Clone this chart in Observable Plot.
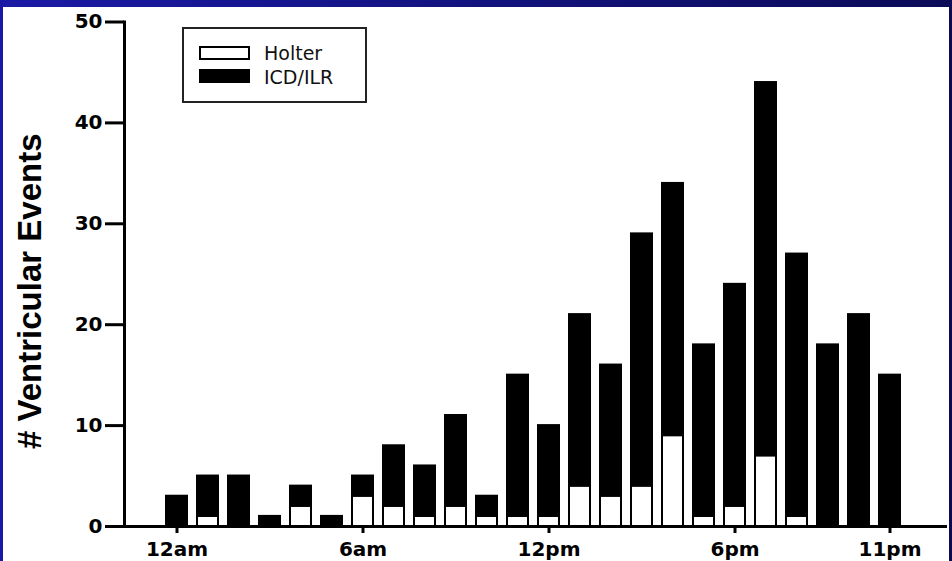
<!DOCTYPE html>
<html>
<head>
<meta charset="utf-8">
<script src="https://cdn.jsdelivr.net/npm/d3@7"></script>
<script src="https://cdn.jsdelivr.net/npm/@observablehq/plot@0.6"></script>
<style>
  html, body { margin: 0; padding: 0; background: white; }
  #wrap { position: relative; width: 952px; height: 561px; overflow: hidden; background: white; }
  #wrap svg { position: absolute; left: 0; top: 0; }
  .band { position: absolute; }
  #legend { position: absolute; left: 182px; top: 27px; width: 185px; height: 76px; box-sizing: border-box;
            border: 2px solid #222; font-family: "DejaVu Sans", sans-serif; font-size: 19px; color: #111; }
  .sw { position: absolute; left: 15px; width: 51px; height: 14px; box-sizing: border-box; border: 2px solid #000; }
  .lt { position: absolute; left: 80px; line-height: 20px; }
</style>
</head>
<body>
<div id="wrap"></div>
<script>
// ---- data ----
const hours = [0,1,2,3,4,5,6,7,8,9,10,11,12,13,14,15,16,17,18,19,20,21,22,23];
const holter = [0,1,0,0,2,0,3,2,1,2,1,1,1,4,3,4,9,1,2,7,1,0,0,0];
const icdIlr = [3,4,5,1,2,1,2,6,5,9,2,14,9,17,13,25,25,17,22,37,26,18,21,15];
const seriesNames = ["Holter", "ICD/ILR"];
const tickHours = [0, 6, 12, 18, 23];
const tickLabels = ["12am", "6am", "12pm", "6pm", "11pm"];
const yTicks = [0, 10, 20, 30, 40, 50];
const yLabel = "# Ventricular Events";

const rows = [];
hours.forEach((h, i) => {
  rows.push({hour: h, series: seriesNames[0], value: holter[i]});
  rows.push({hour: h, series: seriesNames[1], value: icdIlr[i]});
});

const chart = Plot.plot({
  width: 952,
  height: 561,
  marginLeft: 124,
  marginRight: 5,
  marginTop: 21.5,
  marginBottom: 35,
  style: {fontFamily: "'DejaVu Sans', sans-serif", background: "transparent", color: "#000"},
  x: {type: "band", domain: hours, range: [147.7, 919.2], paddingInner: 0.32, paddingOuter: 0.5, axis: null},
  y: {domain: [0, 50], axis: null},
  color: {domain: seriesNames, range: ["white", "black"]},
  marks: [
    Plot.barY(rows, {x: "hour", y: "value", fill: "series", stroke: "black", strokeWidth: 2}),
    Plot.ruleY([0], {stroke: "black", strokeWidth: 3}),
    Plot.frame({anchor: "left", stroke: "black", strokeWidth: 3}),
    Plot.axisY({ticks: yTicks, tickSize: 19, tickPadding: 3, strokeWidth: 3, fontSize: 20, fontWeight: "bold", label: null}),
    Plot.axisX({ticks: tickHours, tickFormat: d => tickLabels[tickHours.indexOf(d)], tickSize: 7, tickPadding: 8,
                strokeWidth: 3, fontSize: 20, fontWeight: "bold", label: null}),
    Plot.text([yLabel], {text: d => d, frameAnchor: "left", textAnchor: "middle", lineAnchor: "middle",
                         rotate: -90, dx: -94, dy: 17,
                         fontSize: 33, fontWeight: "bold", fontFamily: "'Liberation Sans', Arial, sans-serif", fill: "#000"})
  ]
});

const wrap = document.getElementById("wrap");
wrap.appendChild(chart);

// frame bands (decoration)
const topBand = document.createElement("div");
topBand.className = "band";
topBand.style.cssText = "left:0;top:0;width:952px;height:7px;background:linear-gradient(to right,#1a1aa6,#0b0b58);";
wrap.appendChild(topBand);
const leftBand = document.createElement("div");
leftBand.className = "band";
leftBand.style.cssText = "left:0;top:0;width:3px;height:561px;background:#1818a2;";
wrap.appendChild(leftBand);
const rightBand = document.createElement("div");
rightBand.className = "band";
rightBand.style.cssText = "left:949px;top:0;width:3px;height:561px;background:#0b0b58;";
wrap.appendChild(rightBand);

// legend
const lg = document.createElement("div");
lg.id = "legend";
lg.innerHTML =
  `<div class="sw" style="top:17px;background:white;"></div><div class="lt" style="top:14px;">${seriesNames[0]}</div>` +
  `<div class="sw" style="top:40px;background:black;"></div><div class="lt" style="top:38px;">${seriesNames[1]}</div>`;
wrap.appendChild(lg);
</script>
</body>
</html>
